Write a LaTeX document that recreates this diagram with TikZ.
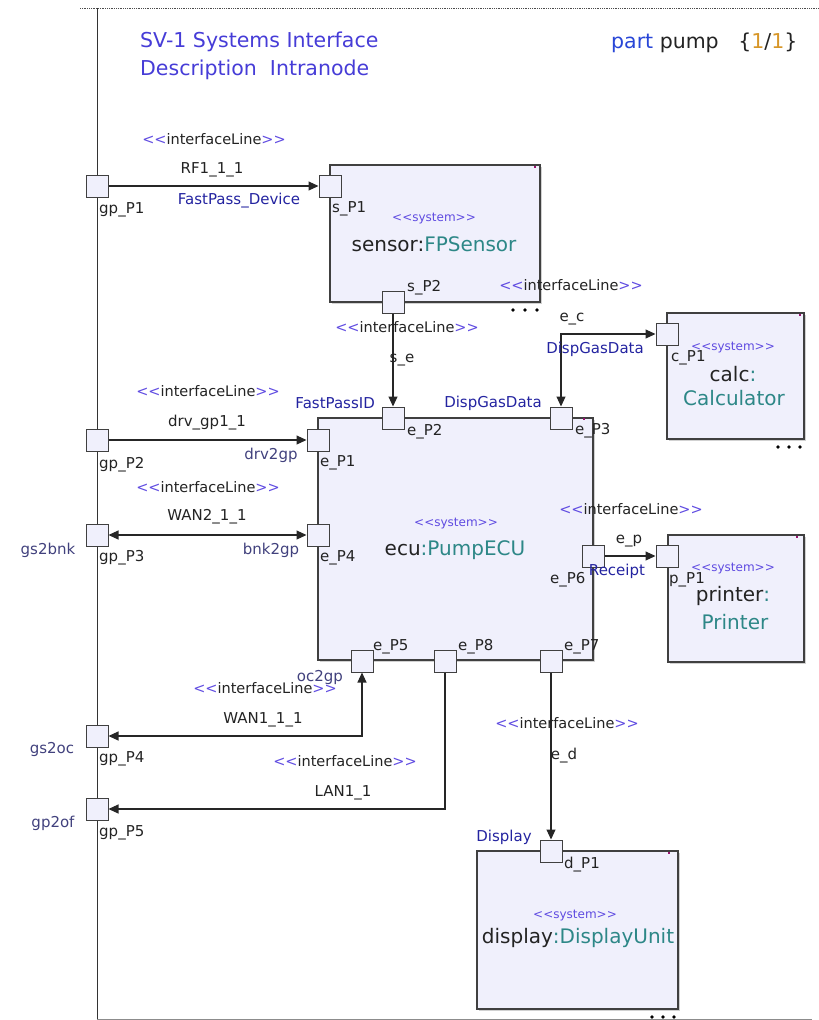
\documentclass[tikz,border=0pt]{standalone}
\usepackage{fontspec}
\setmainfont{DejaVu Sans}
\usetikzlibrary{arrows.meta,shadows}
\definecolor{txt}{RGB}{35,35,35}
\definecolor{stereo}{RGB}{95,75,225}
\definecolor{titleblue}{RGB}{70,60,215}
\definecolor{partblue}{RGB}{40,70,215}
\definecolor{orng}{RGB}{215,150,40}
\definecolor{role}{RGB}{35,35,160}
\definecolor{grayblue}{RGB}{65,65,125}
\definecolor{teal}{RGB}{45,135,135}
\definecolor{boxfill}{RGB}{240,240,252}
\definecolor{mark}{RGB}{150,20,110}
\newcommand{\fs}[1]{\fontsize{#1}{#1}\selectfont}
\newcommand{\ltlt}{<\kern0pt<}
\newcommand{\gtgt}{>\kern0pt>}
\newcommand{\ifl}{\textcolor{stereo}{\ltlt}interfaceLine\textcolor{stereo}{\gtgt}}
\newcommand{\sysst}{\ltlt system\gtgt}
\tikzset{
  >={Triangle[length=10pt,width=9pt]},
  sysbox/.style={draw=black!75, fill=boxfill, line width=1.1pt, inner sep=0,
     drop shadow={shadow xshift=2pt, shadow yshift=-2pt, fill=black!30, opacity=0.6}},
  port/.style={draw=black!75, fill=boxfill, line width=1pt, minimum size=22pt, inner sep=0},
  conn/.style={draw=black!85, line width=1.1pt},
  lbl/.style={font=\fs{15}, text=txt, inner sep=0},
  plbl/.style={lbl, anchor=west},
  rolelbl/.style={font=\fs{15}, text=role, inner sep=0},
  gblbl/.style={font=\fs{15}, text=grayblue, inner sep=0},
  iflbl/.style={font=\fs{14.5}, text=txt, inner sep=0},
  stlbl/.style={font=\fs{12}, text=stereo, inner sep=0},
  namelbl/.style={font=\fs{20}, text=txt, inner sep=0},
  dot/.style={fill=black, draw=none, circle, inner sep=0, minimum size=3.6pt},
  pmark/.style={fill=mark, draw=none, inner sep=0, minimum width=2.5pt, minimum height=2.5pt}
}
\begin{document}
\begin{tikzpicture}[x=1pt,y=-1pt]
\useasboundingbox (0,0) rectangle (819,1020);
% frame
\draw[black!70, densely dotted, line width=0.8pt] (80,8) -- (819,8);
\draw[black!80, line width=1pt] (97,8) -- (97,1020);
\draw[black!45, line width=0.8pt] (97,1019) -- (812,1019);
% title
\node[anchor=west, font=\fs{20.5}, text=titleblue, inner sep=0] (t1) at (140,42) {SV-1 Systems Interface};
\node[anchor=west, font=\fs{20.5}, text=titleblue, inner sep=0] (t2) at (140,70) {Description\ \ Intranode};
\node[anchor=west, font=\fs{20.5}, text=txt, inner sep=0] (t3) at (611,43) {\textcolor{partblue}{part} pump\ \ \ \{\textcolor{orng}{1}/\textcolor{orng}{1}\}};
% boxes
\node[sysbox, minimum width=210pt, minimum height=137pt] (sensor) at (435,233.5) {};
\node[sysbox, minimum width=137pt, minimum height=126pt] (calc) at (735.5,376) {};
\node[sysbox, minimum width=275pt, minimum height=242pt] (ecu) at (455.5,539) {};
\node[sysbox, minimum width=136pt, minimum height=127pt] (printer) at (736,598.5) {};
\node[sysbox, minimum width=201pt, minimum height=158pt] (display) at (577.5,930) {};
% corner marks
\node[pmark] (m1) at (535,167) {};
\node[pmark] (m2) at (800,315) {};
\node[pmark] (m3) at (584,419) {};
\node[pmark] (m4) at (797,537) {};
\node[pmark] (m5) at (669,853) {};
% ellipsis dots
\foreach \x [count=\i] in {513,525,537} \node[dot] (ds\i) at (\x,310) {};
\foreach \x [count=\i] in {778,789,800} \node[dot] (dc\i) at (\x,447) {};
\foreach \x [count=\i] in {652,663,674} \node[dot] (dd\i) at (\x,1017) {};
% box texts
\node[stlbl] (st1) at (434,219) {\sysst};
\node[namelbl] (n1) at (434,244) {sensor:\textcolor{teal}{FPSensor}};
\node[stlbl] (st2) at (733,348) {\sysst};
\node[namelbl] (n2a) at (733,374) {calc\textcolor{teal}{:}};
\node[namelbl, text=teal] (n2b) at (734,398) {Calculator};
\node[stlbl] (st3) at (456,524) {\sysst};
\node[namelbl] (n3) at (455,550) {ecu\textcolor{teal}{:PumpECU}};
\node[stlbl] (st4) at (733,569) {\sysst};
\node[namelbl] (n4a) at (733,596) {printer\textcolor{teal}{:}};
\node[namelbl, text=teal] (n4b) at (735,622) {Printer};
\node[stlbl] (st5) at (575,916) {\sysst};
\node[namelbl] (n5) at (578,938) {display\textcolor{teal}{:DisplayUnit}};
% ports
\node[port] (gpP1) at (97,186) {};
\node[port] (gpP2) at (97,440) {};
\node[port] (gpP3) at (97,535) {};
\node[port] (gpP4) at (97,736) {};
\node[port] (gpP5) at (97,809) {};
\node[port] (sP1) at (330,186) {};
\node[port] (sP2) at (393,302) {};
\node[port] (cP1) at (667,334) {};
\node[port] (eP1) at (318,440) {};
\node[port] (eP2) at (393,418) {};
\node[port] (eP3) at (561,418) {};
\node[port] (eP4) at (318,535) {};
\node[port] (eP6) at (593,556) {};
\node[port] (eP5) at (362,661) {};
\node[port] (eP8) at (445,661) {};
\node[port] (eP7) at (551,661) {};
\node[port] (pP1) at (667,556) {};
\node[port] (dP1) at (551,851) {};
% port labels
\node[plbl] (lgp1) at (99,210) {gp\_P1};
\node[plbl] (lgp2) at (99,465) {gp\_P2};
\node[plbl] (lgp3) at (99,558) {gp\_P3};
\node[plbl] (lgp4) at (99,759) {gp\_P4};
\node[plbl] (lgp5) at (99,833) {gp\_P5};
\node[plbl] (lsp1) at (332,209) {s\_P1};
\node[plbl] (lsp2) at (407,288) {s\_P2};
\node[plbl] (lcp1) at (671,358) {c\_P1};
\node[plbl] (lep1) at (320,463) {e\_P1};
\node[plbl] (lep2) at (407,432) {e\_P2};
\node[plbl] (lep3) at (575,431) {e\_P3};
\node[plbl] (lep4) at (320,558) {e\_P4};
\node[plbl] (lep6) at (550,580) {e\_P6};
\node[plbl] (lep5) at (373,647) {e\_P5};
\node[plbl] (lep8) at (458,647) {e\_P8};
\node[plbl] (lep7) at (564,647) {e\_P7};
\node[plbl] (lpp1) at (669,580) {p\_P1};
\node[plbl] (ldp1) at (564,865) {d\_P1};
% left role names
\node[gblbl] (gs2bnk) at (48,550) {gs2bnk};
\node[gblbl] (gs2oc) at (52,749) {gs2oc};
\node[gblbl] (gp2of) at (53,823) {gp2of};
% connectors
\draw[conn, ->] (gpP1) -- (sP1);
\draw[conn, ->] (gpP2) -- (eP1);
\draw[conn, <->] (gpP3) -- (eP4);
\draw[conn, ->] (sP2) -- (eP2);
\draw[conn, <->] (eP3.north) |- (cP1.west);
\draw[conn, ->] (eP6) -- (pP1);
\draw[conn, <->] (eP5.south) |- (gpP4.east);
\draw[conn, ->] (eP8.south) |- (gpP5.east);
\draw[conn, ->] (eP7) -- (dP1);
% connector labels
\node[iflbl] (i1) at (214,139) {\ifl};
\node[lbl] (c1) at (212,170) {RF1\_1\_1};
\node[rolelbl] (r1) at (239,201) {FastPass\_Device};
\node[iflbl] (i2) at (208,391) {\ifl};
\node[lbl] (c2) at (207,423) {drv\_gp1\_1};
\node[gblbl] (r2) at (271,455) {drv2gp};
\node[iflbl] (i3) at (208,487) {\ifl};
\node[lbl] (c3) at (207,517) {WAN2\_1\_1};
\node[gblbl] (r3) at (271,550) {bnk2gp};
\node[iflbl] (i4) at (407,327) {\ifl};
\node[lbl] (c4) at (402,360) {s\_e};
\node[rolelbl, anchor=east] (r4) at (375,403) {FastPassID};
\node[rolelbl] (r5) at (493,403) {DispGasData};
\node[iflbl] (i5) at (571,285) {\ifl};
\node[lbl] (c5) at (572,319) {e\_c};
\node[rolelbl] (r6) at (595,349) {DispGasData};
\node[iflbl] (i6) at (631,509) {\ifl};
\node[lbl] (c6) at (629,541) {e\_p};
\node[rolelbl] (r7) at (617,571) {Receipt};
\node[gblbl] (r8) at (320,677) {oc2gp};
\node[iflbl] (i7) at (265,688) {\ifl};
\node[lbl] (c7) at (263,720) {WAN1\_1\_1};
\node[iflbl] (i8) at (345,761) {\ifl};
\node[lbl] (c8) at (343,793) {LAN1\_1};
\node[iflbl] (i9) at (567,723) {\ifl};
\node[lbl] (c9) at (564,756) {e\_d};
\node[rolelbl] (r9) at (504,837) {Display};
\end{tikzpicture}
\end{document}
